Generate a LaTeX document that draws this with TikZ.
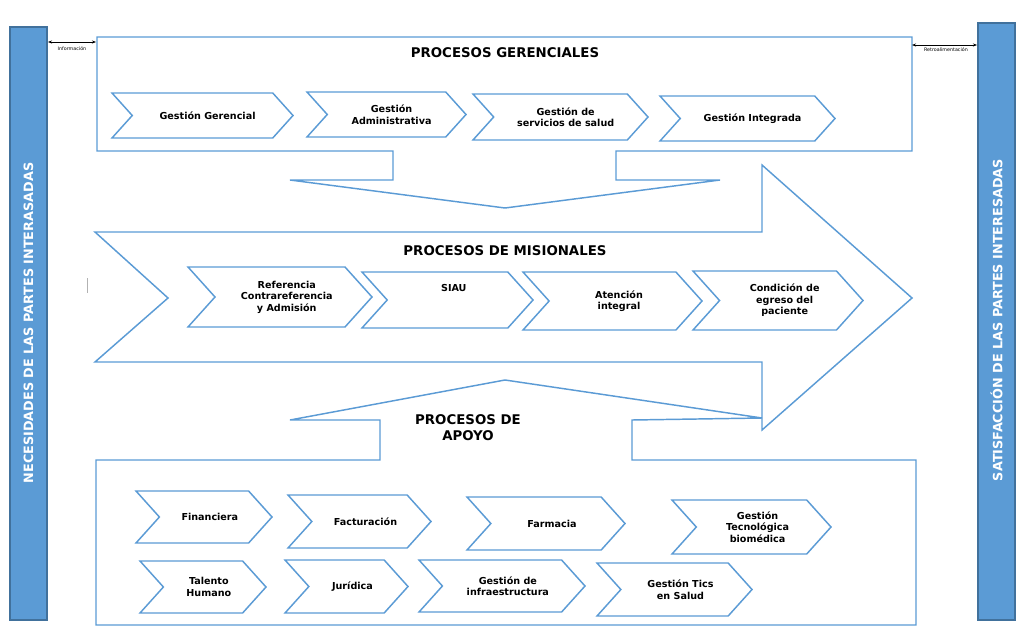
\documentclass[tikz,border=0pt]{standalone}
\usepackage{fontspec}
\setmainfont{DejaVu Sans}
\usetikzlibrary{arrows.meta}
\definecolor{lb}{RGB}{91,155,213}
\definecolor{db}{RGB}{65,113,156}
\tikzset{
  ln/.style={draw=lb,line width=1.1pt},
  lbl/.style={font=\bfseries\fontsize{7.2}{8.6}\selectfont,align=center},
  ttl/.style={font=\bfseries\fontsize{10}{12}\selectfont,align=center},
  bar/.style={fill=lb,draw=db,line width=0.8pt},
  bartxt/.style={font=\bfseries\fontsize{9.6}{11}\selectfont,text=white,rotate=90},
  small/.style={font=\fontsize{3.6}{4}\selectfont},
  da/.style={{Stealth[length=3pt]}-{Stealth[length=3pt]},line width=0.6pt}
}
% \chv{name}{x1}{y1}{x2}{y2}{text}
\newcommand{\chv}[6]{%
  \pgfmathsetmacro{\ym}{(#3+#5)/2}\pgfmathsetmacro{\dd}{0.45*(#5-#3)}%
  \draw[ln] (#2,#3) -- ({#4-\dd},#3) -- (#4,\ym) -- ({#4-\dd},#5) -- (#2,#5) -- ({#2+\dd},\ym) -- cycle;
  \node[lbl] (#1) at ({(#2+#4)/2+\dd/4},\ym) {#6};}
\begin{document}
\begin{tikzpicture}[x=0.75pt,y=-0.75pt]
\useasboundingbox (0,0) rectangle (1024,636);
% side bars
\draw[bar] (10,27) rectangle (47,620);
\node[bartxt] (nec) at (28.5,323) {NECESIDADES DE LAS PARTES INTERASADAS};
\draw[bar] (978,23) rectangle (1015,620);
\node[bartxt] (sat) at (996.5,320) {SATISFACCIÓN DE LAS PARTES INTERESADAS};
% top container
\draw[ln] (97,37) -- (912,37) -- (912,151) -- (616,151) -- (616,180) -- (720,180) -- (505,208) -- (290,180) -- (393,180) -- (393,151) -- (97,151) -- cycle;
\node[ttl] (tg) at (505,53) {PROCESOS GERENCIALES};
% middle arrow
\draw[ln] (95,232) -- (762,232) -- (762,165) -- (912,298) -- (762,430) -- (762,362) -- (95,362) -- (168,298) -- cycle;
\node[ttl] (tm) at (505,251) {PROCESOS DE MISIONALES};
% bottom container
\draw[ln,fill=white] (96,460) -- (380,460) -- (380,420) -- (290,420) -- (505,380) -- (762,418) -- (632,420) -- (632,460) -- (916,460) -- (916,625) -- (96,625) -- cycle;
\node[ttl] (ta) at (468,428) {PROCESOS DE\\APOYO};
\draw[gray!60,line width=0.5pt] (87,278) -- (87,293);
% info arrows
\coordinate (i1) at (48,42); \coordinate (i2) at (96,42);
\draw[da] (i1) -- (i2);
\node[small] (inf) at (72,49) {Información};
\coordinate (r1) at (912,45); \coordinate (r2) at (977,45);
\draw[da] (r1) -- (r2);
\node[small] (ret) at (946,50) {Retroalimentación};
% chevrons
\chv{a1}{112}{93}{293}{138}{Gestión Gerencial}
\chv{a2}{307}{92}{466}{137}{Gestión\\Administrativa}
\chv{a3}{473}{94}{648}{140}{Gestión de\\servicios de salud}
\chv{a4}{660}{96}{835}{141}{Gestión Integrada}
\chv{b1}{188}{267}{372}{327}{Referencia\\Contrareferencia\\y Admisión}
\chv{b2}{362}{272}{533}{328}{SIAU\\[9pt]}
\chv{b3}{523}{272}{702}{330}{Atención\\integral}
\chv{b4}{693}{271}{863}{330}{Condición de\\egreso del\\paciente}
\chv{c1}{136}{491}{272}{543}{Financiera}
\chv{c2}{288}{495}{431}{548}{Facturación}
\chv{c3}{467}{497}{625}{550}{Farmacia}
\chv{c4}{672}{500}{831}{554}{Gestión\\Tecnológica\\biomédica}
\chv{d1}{140}{561}{266}{613}{Talento\\Humano}
\chv{d2}{285}{560}{408}{613}{Jurídica}
\chv{d3}{419}{560}{585}{612}{Gestión de\\infraestructura}
\chv{d4}{597}{563}{752}{616}{Gestión Tics\\en Salud}
\end{tikzpicture}
\end{document}
